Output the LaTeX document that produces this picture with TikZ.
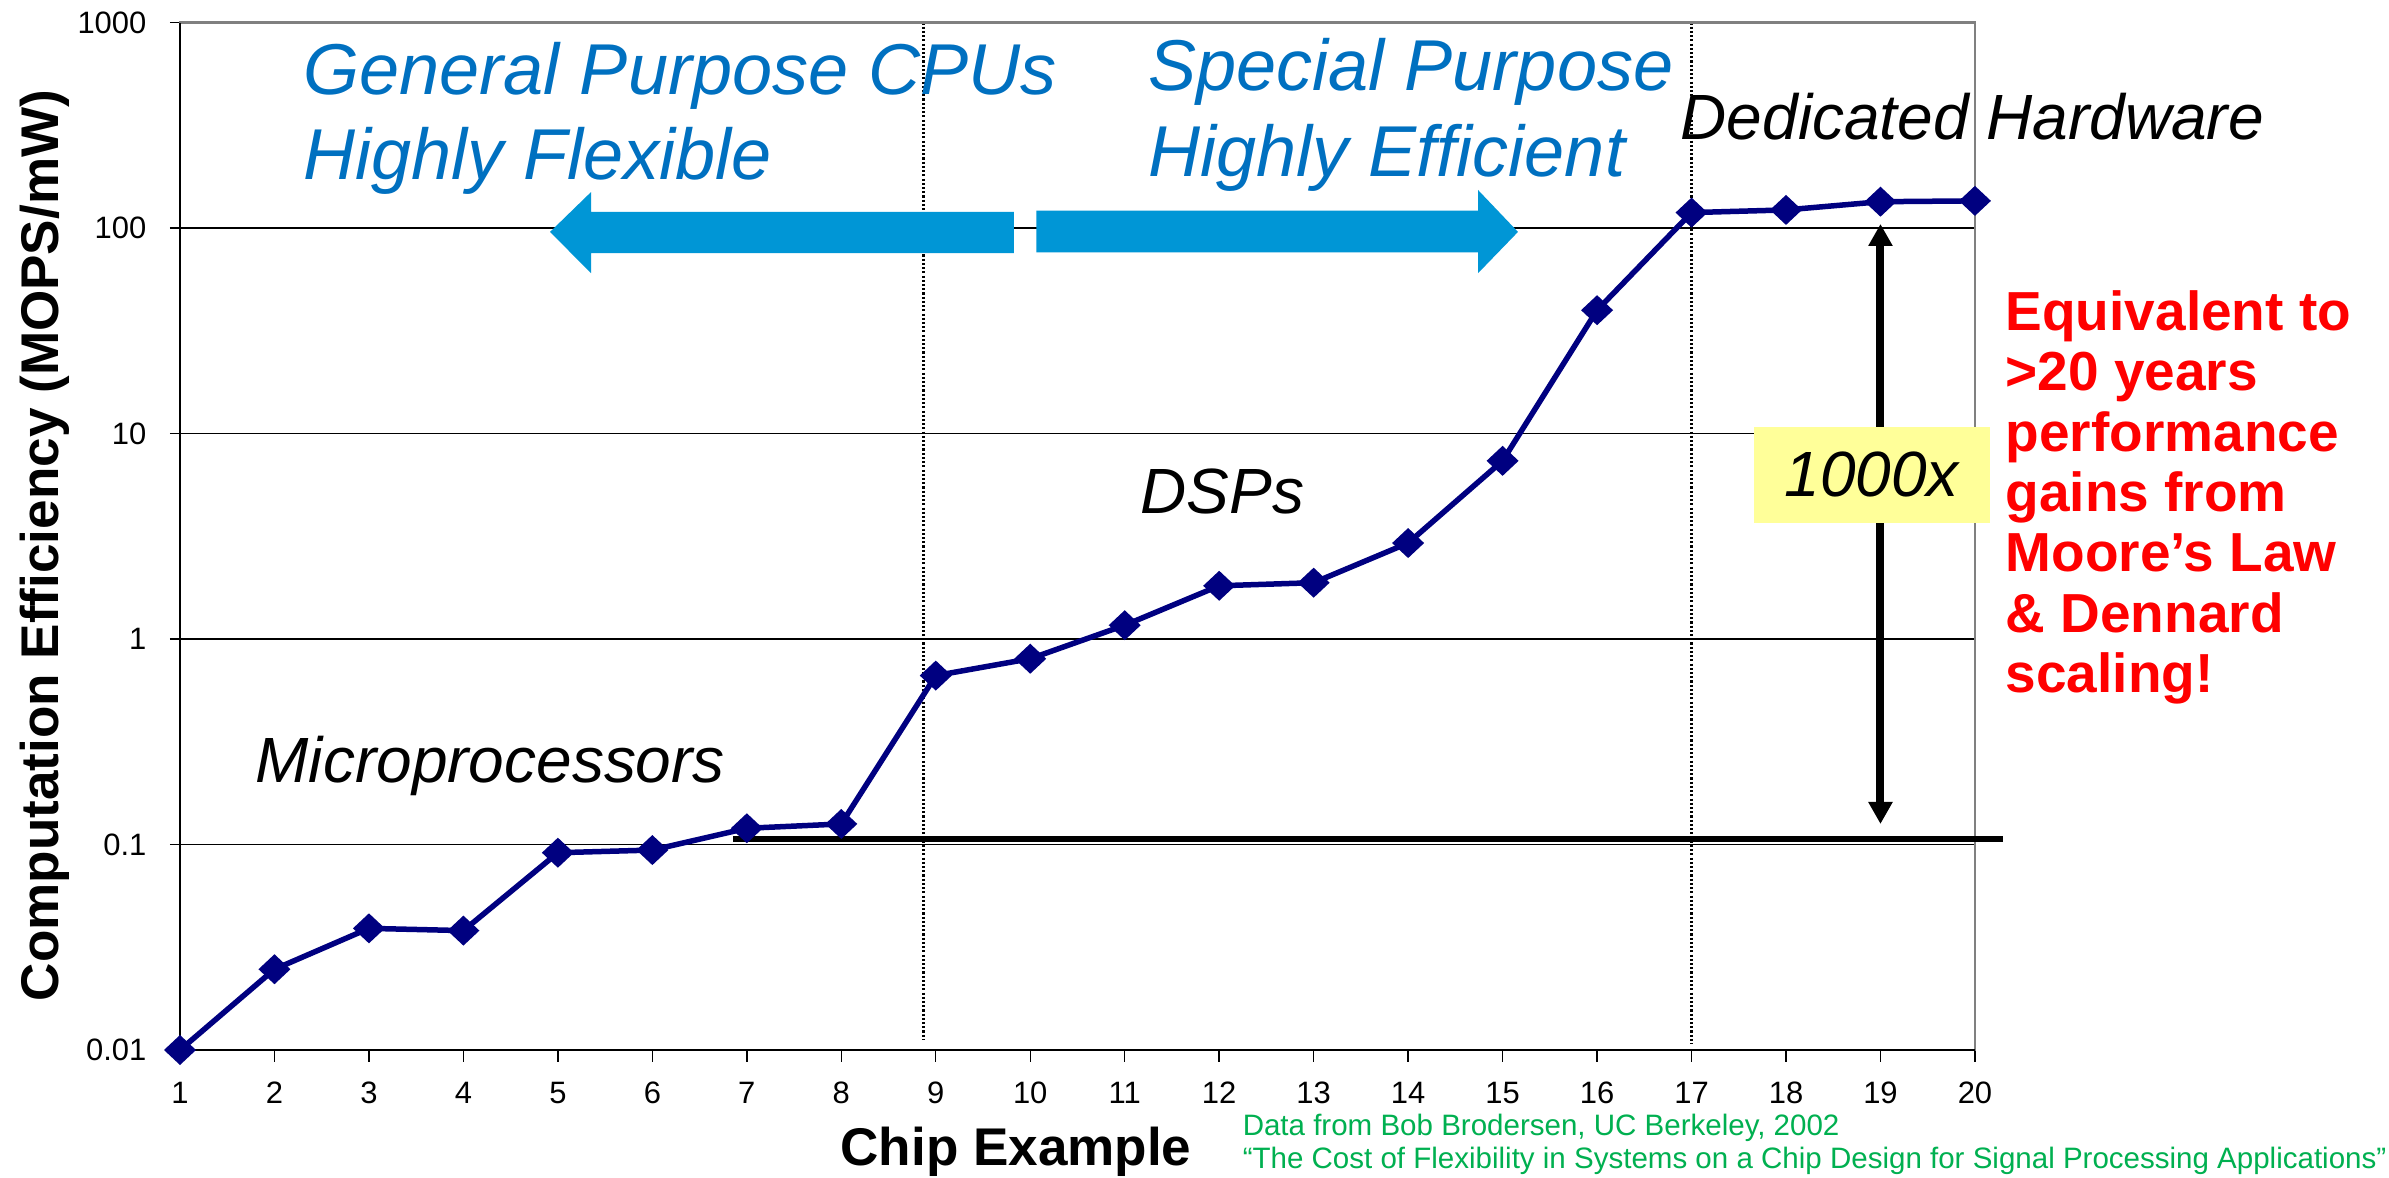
\documentclass[tikz,border=0pt]{standalone}
\usepackage{fontspec}
\setmainfont{Liberation Sans}
\usetikzlibrary{arrows.meta}

\definecolor{cpublue}{RGB}{0,112,192}
\definecolor{fatblue}{RGB}{0,150,214}
\definecolor{seriesblue}{RGB}{0,0,128}
\definecolor{notegreen}{RGB}{0,176,80}
\definecolor{boxyellow}{RGB}{255,255,153}
\definecolor{framegray}{RGB}{128,128,128}

\begin{document}
\begin{tikzpicture}[x=0.9447cm, y=2.055cm,
    ticklab/.style={inner sep=0pt, font=\fontsize{8.8}{10}\selectfont},
    axislab/.style={inner sep=0pt, font=\bfseries\fontsize{15.1}{18}\selectfont},
    bluelab/.style={inner sep=0pt, align=left, text=cpublue, font=\itshape\fontsize{20.5}{24.2}\selectfont},
    chiplab/.style={inner sep=0pt, font=\itshape\fontsize{18.2}{21}\selectfont},
    series/.style={seriesblue, line width=0.055cm, line join=round},
    marker/.style={fill=seriesblue}]

    % Canvas (x = chip number, y = log10 of MOPS/mW)
    \useasboundingbox (-0.9054,-2.618) rectangle (24.383,3.1095);
    \fill[white] (-0.9054,-2.618) rectangle (24.383,3.1095);

    % Grid lines with their ticks
    \foreach \L in {-2,-1,0,1,2,3}
        \draw[line width=0.35pt] (0.894,\L) -- (1,\L);
    \foreach \L in {-1,0,1,2}
        \draw[line width=0.35pt] (1,\L) -- (20,\L);
    \foreach \c in {1,...,20}
        \draw[line width=0.4pt] (\c,-2) -- (\c,-2.058);

    % Dotted separators
    \draw[line width=0.6pt, dash pattern=on 0.6pt off 0.6pt] (8.87,3) -- (8.87,-1.947);
    \draw[line width=0.6pt, dash pattern=on 0.6pt off 0.6pt] (17,3) -- (17,-1.971);

    % Plot frame and axes
    \draw[framegray, line width=0.8pt] (1,-2) rectangle (20,3);
    \draw[line width=0.5pt] (1,3) -- (1,-2) -- (20,-2);

    % Tick labels
    \foreach \c in {1,...,20}
        \node[ticklab, anchor=base] (xt\c) at (\c,-2.258) {\c};
    \foreach \L/\t in {-2/0.01,-1/0.1,0/1,1/10,2/100,3/1000}
        \node[ticklab, anchor=east] (yt\L) at (0.651,\L) {\t};

    % Axis titles
    \node[axislab, rotate=90, anchor=base] (ylab) at (-0.281,0.455) {Computation Efficiency (MOPS/mW)};
    \node[axislab, anchor=base] (xlab) at (9.849,-2.560) {Chip Example};

    % Baseline at the microprocessor level
    \draw[line width=0.065cm] (6.854,-0.973) -- (20.297,-0.973);

    % Data
    \draw[series] plot coordinates {(1,-2) (2,-1.607) (3,-1.408) (4,-1.419) (5,-1.040)
        (6,-1.027) (7,-0.921) (8,-0.900) (9,-0.178) (10,-0.096) (11,0.067) (12,0.259)
        (13,0.274) (14,0.467) (15,0.867) (16,1.600) (17,2.075) (18,2.088) (19,2.128) (20,2.132)};
    \foreach \c/\v in {1/-2,2/-1.607,3/-1.408,4/-1.419,5/-1.040,6/-1.027,7/-0.921,8/-0.900,
        9/-0.178,10/-0.096,11/0.067,12/0.259,13/0.274,14/0.467,15/0.867,16/1.600,
        17/2.075,18/2.088,19/2.128,20/2.132}
        \fill[marker] (\c,\v) ++(-0.16cm,0) -- ++(0.16cm,0.15cm) -- ++(0.16cm,-0.15cm) -- ++(-0.16cm,-0.15cm) -- cycle;

    % 1000x gap
    \coordinate (gaptop) at (19,2.0195);
    \coordinate (gapbot) at (19,-0.900);
    \draw[line width=0.08cm, {Triangle[width=0.23cm,length=0.22cm]}-{Triangle[width=0.23cm,length=0.22cm]}] (gapbot) -- (gaptop);
    \node[chiplab, fill=boxyellow, minimum width=2.36cm, minimum height=0.96cm] (gain) at (18.908,0.800) {1000x};

    % Fat arrows
    \fill[fatblue] (4.917,1.981) -- (5.351,2.175) -- (5.351,2.079) -- (9.828,2.079)
        -- (9.828,1.878) -- (5.351,1.878) -- (5.351,1.780) -- cycle;
    \fill[fatblue] (15.163,1.981) -- (14.740,2.185) -- (14.740,2.084) -- (10.066,2.084)
        -- (10.066,1.882) -- (14.740,1.882) -- (14.740,1.780) -- cycle;

    % Labels (multi-line nodes sit on their last baseline)
    \node[bluelab, anchor=base west] (gp) at (2.302,2.234) {General Purpose CPUs\\Highly Flexible};
    \node[bluelab, anchor=base west] (sp) at (11.246,2.253) {Special Purpose\\Highly Efficient};
    \node[chiplab, anchor=base west] (dedic) at (16.878,2.433) {Dedicated Hardware};
    \node[chiplab, anchor=base west] (dsp) at (11.162,0.613) {DSPs};
    \node[chiplab, anchor=base west] (micro) at (1.794,-0.696) {Microprocessors};

    \node[inner sep=0pt, align=left, anchor=base west, text=red,
        font=\bfseries\fontsize{15.65}{17.16}\selectfont] (moore) at (20.318,-0.260)
        {Equivalent to\\>20 years\\performance\\gains from\\Moore’s Law\\\& Dennard\\scaling!};

    \node[inner sep=0pt, align=left, anchor=base west, text=notegreen,
        font=\fontsize{8.4}{9.4}\selectfont] (source) at (12.242,-2.579)
        {Data from Bob Brodersen, UC Berkeley, 2002\\“The Cost of Flexibility in Systems on a Chip Design for Signal Processing Applications”};
\end{tikzpicture}
\end{document}
